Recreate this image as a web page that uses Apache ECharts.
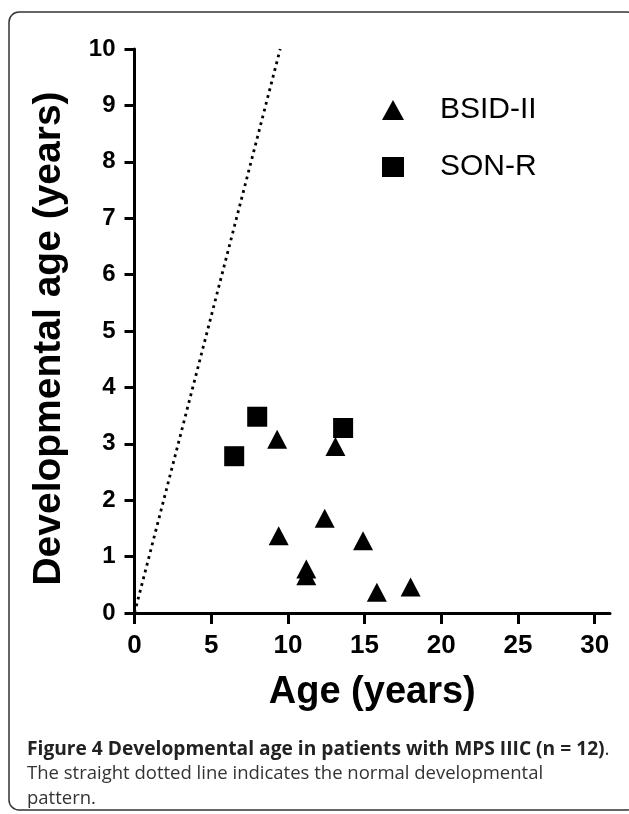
<!DOCTYPE html>
<html><head><meta charset="utf-8">
<script src="https://cdn.jsdelivr.net/npm/echarts@6/dist/echarts.min.js"></script>
<style>html,body{margin:0;padding:0;background:#fff}#c{width:629px;height:814px}</style>
</head><body><div id="c"></div>
<script>
const seriesNames = ['BSID-II', 'SON-R'];
const bsidPoints = [[9.3,3.08],[13.1,2.95],[12.4,1.68],[9.4,1.37],[14.9,1.28],[11.2,0.78],[11.2,0.66],[15.8,0.37],[18.0,0.46]];
const sonrPoints = [[8.0,3.48],[13.6,3.28],[6.5,2.78]];
const normalLine = [[0,0],[9.5,10]];
const xTicks = [0,5,10,15,20,25,30];
const xAxisTitle = 'Age (years)';
const yAxisTitle = 'Developmental age (years)';
const captionBold = 'Figure 4 Developmental age in patients with MPS IIIC (n = 12)';
const captionRest1 = '.';
const captionLine2 = 'The straight dotted line indicates the normal developmental';
const captionLine3 = 'pattern.';

const chart = echarts.init(document.getElementById('c'), null, {renderer:'canvas'});
const FF = '"Liberation Sans", Arial, sans-serif';
const CF = '"Open Sans", "Noto Sans", sans-serif';
const axisCommon = {
  axisLine:{lineStyle:{color:'#000',width:3}},
  axisTick:{length:10,lineStyle:{color:'#000',width:3}},
  splitLine:{show:false},
};
chart.setOption({
  animation:false,
  backgroundColor:'#fff',
  grid:{left:134.5,right:19,top:49,bottom:201,containLabel:false},
  xAxis:Object.assign({}, axisCommon, {
    type:'value', min:0, max:31, interval:5,
    axisTick:{length:11,lineStyle:{color:'#000',width:3},customValues:xTicks},
    axisLabel:{customValues:xTicks,color:'#000',fontFamily:FF,fontWeight:'bold',fontSize:26,margin:20},
    name:xAxisTitle, nameLocation:'middle', nameGap:61,
    nameTextStyle:{color:'#000',fontFamily:FF,fontWeight:'bold',fontSize:38}
  }),
  yAxis:Object.assign({}, axisCommon, {
    type:'value', min:0, max:10, interval:1,
    axisLabel:{color:'#000',fontFamily:FF,fontWeight:'bold',fontSize:24,margin:19},
    name:yAxisTitle, nameLocation:'middle', nameGap:66,
    nameTextStyle:{color:'#000',fontFamily:FF,fontWeight:'bold',fontSize:39,padding:[0,15,0,0]}
  }),
  legend:{
    orient:'vertical', left:377, top:90, itemWidth:22, itemHeight:20, itemGap:27,
    data:[{name:seriesNames[0],icon:'triangle'},{name:seriesNames[1],icon:'rect'}],
    textStyle:{color:'#000',fontFamily:FF,fontSize:30,padding:[0,0,0,31]}
  },
  series:[
    {type:'line', data:normalLine, symbol:'none', silent:true,
     lineStyle:{color:'#000',width:2.8,type:[2.8,4.2]}},
    {name:seriesNames[0], type:'scatter', data:bsidPoints, symbol:'triangle', symbolSize:[20,19],
     itemStyle:{color:'#000',opacity:1}},
    {name:seriesNames[1], type:'scatter', data:sonrPoints, symbol:'rect', symbolSize:20,
     itemStyle:{color:'#000',opacity:1}}
  ],
  graphic:[
    {type:'rect', shape:{x:9,y:12,width:628,height:798,r:10}, style:{fill:null,stroke:'#333',lineWidth:1.5}, silent:true},
    {type:'text', left:27, top:740, style:{
      text:'{b|'+captionBold+'}{r|'+captionRest1+'}', rich:{
        b:{fontFamily:CF,fontWeight:'bold',fontSize:19.2,fill:'#222'},
        r:{fontFamily:CF,fontSize:19.2,fill:'#333'}}}},
    {type:'text', left:27, top:764, style:{text:captionLine2,fontFamily:CF,fontSize:18.5,fill:'#333'}},
    {type:'text', left:27, top:789, style:{text:captionLine3,fontFamily:CF,fontSize:18.5,fill:'#333'}}
  ]
});
</script></body></html>
